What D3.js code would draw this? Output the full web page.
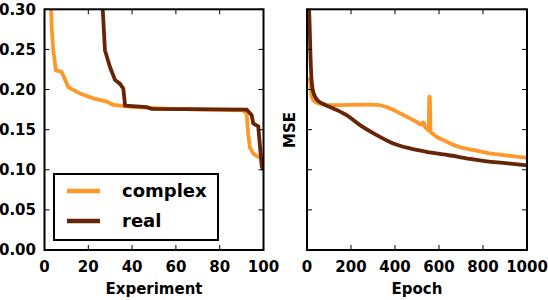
<!DOCTYPE html>
<html>
<head>
<meta charset="utf-8">
<script src="https://cdn.jsdelivr.net/npm/d3@7"></script>
<style>
  body { margin: 0; background: #fff; }
  text { font-family: "DejaVu Sans", sans-serif; font-weight: bold; }
</style>
</head>
<body>
<div id="viz-container"></div>
<script>
// left panel: sorted MSE per experiment
let expComplexX = [3.0, 3.3, 4.0, 5.2, 7.8, 10.9, 16.2, 22.3, 28.4, 31.4, 40.4, 58.7, 90.7, 92.3, 93.0, 93.8, 95.4, 97.6, 99.2, 100];
let expComplexY = [0.30, 0.276, 0.249, 0.224, 0.222, 0.203, 0.195, 0.189, 0.185, 0.181, 0.178, 0.176, 0.174, 0.170, 0.145, 0.128, 0.120, 0.116, 0.114, 0.110];
let expRealX = [26.6, 27.6, 29.9, 32.2, 34.5, 36.0, 36.8, 46.7, 48.9, 92.3, 94.6, 95.3, 97.6, 98.4, 99.2, 100];
let expRealY = [0.30, 0.249, 0.228, 0.212, 0.207, 0.201, 0.180, 0.178, 0.176, 0.175, 0.168, 0.158, 0.154, 0.129, 0.104, 0.100];

// right panel: MSE per epoch
let epochRealX = [5, 12, 16, 20, 26, 35, 50, 74, 120, 180, 241, 317, 392, 468, 544, 620, 688, 741, 817, 891, 1000];
let epochRealY = [0.33, 0.28, 0.24, 0.215, 0.200, 0.192, 0.186, 0.182, 0.1764, 0.168, 0.1556, 0.1432, 0.1328, 0.1266, 0.1224, 0.1191, 0.1162, 0.1135, 0.1105, 0.1085, 0.1055];
let epochComplexX = [9, 13.6, 21, 36, 74, 120, 200, 271, 320, 347, 380, 408, 440, 468, 499, 521, 527, 530, 536, 546, 553, 556, 558, 562, 574, 590, 620, 680, 741, 817, 892, 1000];
let epochComplexY = [0.215, 0.2116, 0.191, 0.1846, 0.1813, 0.1805, 0.1808, 0.1813, 0.1808, 0.1795, 0.176, 0.1725, 0.168, 0.164, 0.1595, 0.156, 0.159, 0.159, 0.1535, 0.151, 0.149, 0.191, 0.191, 0.147, 0.1445, 0.141, 0.137, 0.1295, 0.1255, 0.1212, 0.1183, 0.1152];

let yTicks = [0, 0.05, 0.10, 0.15, 0.20, 0.25, 0.30];
let expTicks = [0, 20, 40, 60, 80, 100];
let epochTicks = [0, 200, 400, 600, 800, 1000];
let seriesNames = ["complex", "real"];
let colors = ["#fe9929", "#662506"];

let viz = d3.select("#viz-container")
  .append("svg")
    .attr("width", 548)
    .attr("height", 300)
;

let plotTop = 9.3, plotBottom = 250;
let y = d3.scaleLinear().domain([0, 0.30]).range([plotBottom, plotTop]);

function panel(x0, x1, domain, ticks, xlabel, showY, series, id, curve) {
  let x = d3.scaleLinear().domain(domain).range([x0, x1]);
  let g = viz.append("g");

  g.append("clipPath").attr("id", id)
    .append("rect").attr("x", x0).attr("y", plotTop).attr("width", x1 - x0).attr("height", plotBottom - plotTop);

  let line = d3.line().curve(curve).x(d => x(d[0])).y(d => y(d[1]));
  series.forEach((s, i) => {
    g.append("path")
      .datum(d3.zip(s[0], s[1]))
      .attr("d", line)
      .attr("fill", "none")
      .attr("stroke", colors[i])
      .attr("stroke-width", 3.8)
      .attr("clip-path", "url(#" + id + ")");
  });

  // inward ticks on all four sides
  let tk = 5;
  ticks.forEach(t => {
    g.append("line").attr("x1", x(t)).attr("x2", x(t)).attr("y1", plotBottom).attr("y2", plotBottom - tk).attr("stroke", "#000");
    g.append("line").attr("x1", x(t)).attr("x2", x(t)).attr("y1", plotTop).attr("y2", plotTop + tk).attr("stroke", "#000");
    g.append("text").attr("x", x(t)).attr("y", 272).attr("text-anchor", "middle")
      .attr("font-size", 15).text(t);
  });
  yTicks.forEach(t => {
    g.append("line").attr("x1", x0).attr("x2", x0 + tk).attr("y1", y(t)).attr("y2", y(t)).attr("stroke", "#000");
    g.append("line").attr("x1", x1).attr("x2", x1 - tk).attr("y1", y(t)).attr("y2", y(t)).attr("stroke", "#000");
    if (showY) {
      g.append("text").attr("x", x0 - 8.5).attr("y", y(t)).attr("dy", "0.36em")
        .attr("text-anchor", "end").attr("font-size", 15).text(d3.format(".2f")(t));
    }
  });

  g.append("rect").attr("x", x0).attr("y", plotTop).attr("width", x1 - x0).attr("height", plotBottom - plotTop)
    .attr("fill", "none").attr("stroke", "#000").attr("stroke-width", 2);

  g.append("text").attr("x", (x0 + x1) / 2).attr("y", 294).attr("text-anchor", "middle")
    .attr("font-size", 15).text(xlabel);
  return g;
}

panel(44.5, 263.5, [0, 100], expTicks, "Experiment", true,
  [[expComplexX, expComplexY], [expRealX, expRealY]], "clipL", d3.curveLinear);
panel(307, 527, [0, 1000], epochTicks, "Epoch", false,
  [[epochComplexX, epochComplexY], [epochRealX, epochRealY]], "clipR", d3.curveMonotoneX);

viz.append("text")
  .attr("transform", "translate(295,130) rotate(-90)")
  .attr("text-anchor", "middle")
  .attr("font-size", 15)
  .text("MSE");

// legend
let lg = viz.append("g");
lg.append("rect").attr("x", 54).attr("y", 174).attr("width", 164).attr("height", 66)
  .attr("fill", "#fff").attr("stroke", "#000").attr("stroke-width", 2);
seriesNames.forEach((n, i) => {
  let ly = 191 + i * 30;
  lg.append("line").attr("x1", 67).attr("x2", 100).attr("y1", ly).attr("y2", ly)
    .attr("stroke", colors[i]).attr("stroke-width", 4.5);
  lg.append("text").attr("x", 122).attr("y", ly).attr("dy", "0.36em")
    .attr("font-size", 18).text(n);
});
</script>
</body>
</html>
